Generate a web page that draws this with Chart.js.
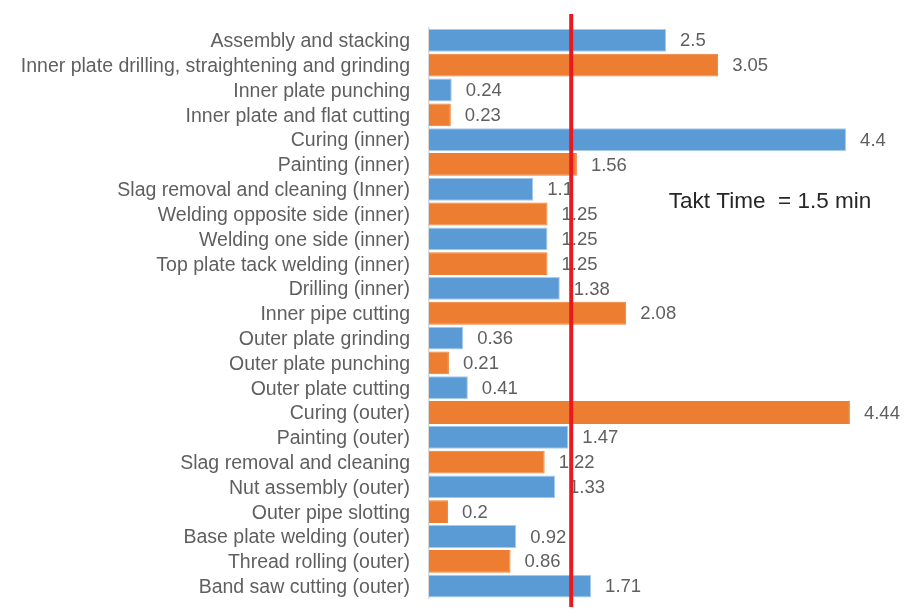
<!DOCTYPE html>
<html>
<head>
<meta charset="utf-8">
<script src="https://cdn.jsdelivr.net/npm/chart.js@4.4.1/dist/chart.umd.min.js"></script>
<style>
  html, body { margin: 0; padding: 0; background: #fff; }
  #wrap { width: 921px; height: 616px; }
</style>
</head>
<body>
<div id="wrap"><canvas id="taktChart"></canvas></div>
<script>
const processes = [
  "Assembly and stacking",
  "Inner plate drilling, straightening and grinding",
  "Inner plate punching",
  "Inner plate and flat cutting",
  "Curing (inner)",
  "Painting (inner)",
  "Slag removal and cleaning (Inner)",
  "Welding opposite side (inner)",
  "Welding one side (inner)",
  "Top plate tack welding (inner)",
  "Drilling (inner)",
  "Inner pipe cutting",
  "Outer plate grinding",
  "Outer plate punching",
  "Outer plate cutting",
  "Curing (outer)",
  "Painting (outer)",
  "Slag removal and cleaning",
  "Nut assembly (outer)",
  "Outer pipe slotting",
  "Base plate welding (outer)",
  "Thread rolling (outer)",
  "Band saw cutting (outer)",
];
const cycleTimes = [
  2.5, 3.05, 0.24, 0.23, 4.4, 1.56, 1.1, 1.25, 1.25, 1.25, 1.38, 2.08,
  0.36, 0.21, 0.41, 4.44, 1.47, 1.22, 1.33, 0.2, 0.92, 0.86, 1.71,
];
const taktTime = 1.5;
const taktLabel = "Takt Time  = 1.5 min";

const BLUE = "#5b9bd5";
const ORANGE = "#ed7d31";
const barColors = processes.map((_, i) => (i % 2 === 0 ? BLUE : ORANGE));
const barBorders = processes.map((_, i) => (i % 2 === 0 ? "#a9cbea" : ORANGE));

// value text at the end of each bar
const valueLabels = {
  id: "valueLabels",
  afterDatasetsDraw(chart) {
    const { ctx } = chart;
    const meta = chart.getDatasetMeta(0);
    ctx.save();
    ctx.font = "18.5px 'Liberation Sans', Arial, sans-serif";
    ctx.fillStyle = "#5f5f5f";
    ctx.textAlign = "left";
    ctx.textBaseline = "middle";
    meta.data.forEach((bar, i) => {
      ctx.fillText(String(cycleTimes[i]), bar.x + 14, bar.y + 1);
    });
    ctx.restore();
  },
};

// red takt line and its caption
const taktLine = {
  id: "taktLine",
  afterDraw(chart) {
    const { ctx } = chart;
    const x = chart.scales.x.getPixelForValue(taktTime);
    const y = chart.scales.y;
    ctx.save();
    ctx.strokeStyle = "#e8191f";
    ctx.lineWidth = 4;
    ctx.beginPath();
    ctx.moveTo(x, 14);
    ctx.lineTo(x, 607);
    ctx.stroke();

    ctx.font = "22.5px 'Liberation Sans', Arial, sans-serif";
    ctx.fillStyle = "#262626";
    ctx.textAlign = "left";
    ctx.textBaseline = "middle";
    const ty = (y.getPixelForValue(6) + y.getPixelForValue(7)) / 2;
    ctx.fillText(taktLabel, chart.scales.x.getPixelForValue(2.53), ty);
    ctx.restore();
  },
};

new Chart(document.getElementById("taktChart"), {
  type: "bar",
  data: {
    labels: processes,
    datasets: [
      {
        data: cycleTimes,
        backgroundColor: barColors,
        borderColor: barBorders,
        borderWidth: 1,
        barPercentage: 0.92,
        categoryPercentage: 1,
      },
    ],
  },
  options: {
    indexAxis: "y",
    responsive: true,
    maintainAspectRatio: false,
    animation: false,
    layout: { padding: { top: 28, bottom: 17.5, left: 0, right: 18 } },
    plugins: {
      legend: { display: false },
      tooltip: { enabled: false },
    },
    scales: {
      x: { display: false, min: 0, max: 5 },
      y: {
        afterFit: (scale) => {
          // fixed label column; no extra room above/below for tick text
          scale.width = 429;
          scale.paddingTop = 0;
          scale.paddingBottom = 0;
        },
        grid: { display: false, drawTicks: false },
        border: { display: true, color: "#d9d9d9", width: 1.5 },
        ticks: {
          color: "#5f5f5f",
          padding: 19,
          labelOffset: 1.5,
          autoSkip: false,
          font: { family: "'Liberation Sans', Arial, sans-serif", size: 19.5 },
        },
      },
    },
  },
  plugins: [valueLabels, taktLine],
});
</script>
</body>
</html>
